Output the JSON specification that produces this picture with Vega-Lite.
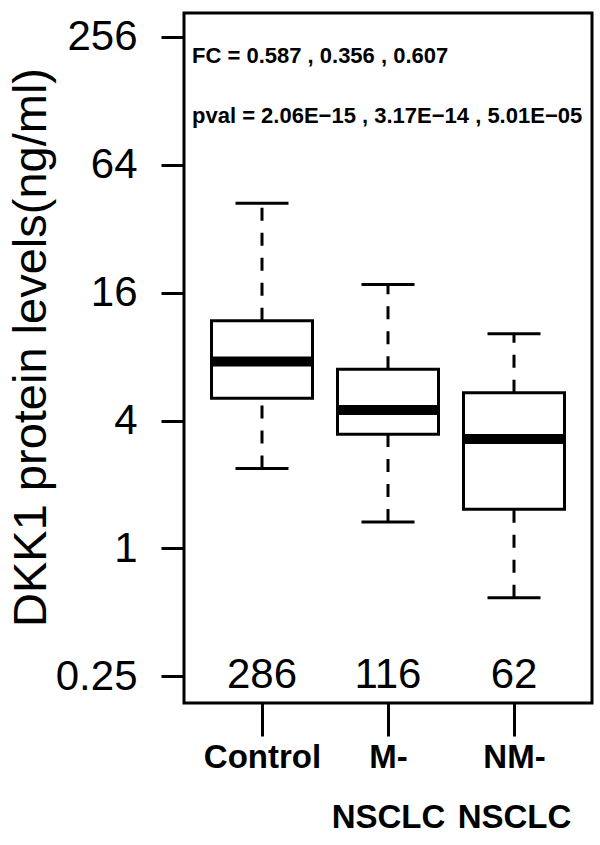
{
  "$schema": "https://vega.github.io/schema/vega-lite/v6.json",
  "width": 408,
  "height": 690,
  "autosize": {"type": "none"},
  "padding": {"left": 184, "top": 13, "right": 8, "bottom": 142},
  "background": "white",
  "config": {
    "view": {"stroke": "black", "strokeWidth": 3},
    "font": "Liberation Sans"
  },
  "data": {
    "values": [
      {"group": "Control", "low": 2.38, "q1": 5.09, "median": 7.59, "q3": 11.81, "high": 42.2, "n": "286"},
      {"group": "M-NSCLC", "low": 1.33, "q1": 3.45, "median": 4.48, "q3": 6.97, "high": 17.5, "n": "116"},
      {"group": "NM-NSCLC", "low": 0.585, "q1": 1.53, "median": 3.27, "q3": 5.41, "high": 10.25, "n": "62"}
    ]
  },
  "encoding": {
    "x": {
      "field": "group",
      "type": "nominal",
      "sort": null,
      "scale": {"type": "point", "padding": 0.619, "domain": ["Control", "M-NSCLC", "NM-NSCLC"]},
      "axis": {
        "title": null,
        "domain": false,
        "grid": false,
        "tickSize": 33,
        "tickWidth": 3,
        "tickColor": "black",
        "labelAngle": 0,
        "labelFont": "Liberation Sans",
        "labelFontWeight": "bold",
        "labelFontSize": 33,
        "labelColor": "black",
        "labelPadding": 5,
        "labelBaseline": "top",
        "labelLineHeight": 60,
        "labelExpr": "datum.label == 'M-NSCLC' ? ['M-', 'NSCLC'] : datum.label == 'NM-NSCLC' ? ['NM-', 'NSCLC'] : datum.label"
      }
    }
  },
  "layer": [
    {
      "mark": {"type": "rule", "strokeDash": [13, 12], "strokeWidth": 3, "color": "black"},
      "encoding": {
        "y": {
          "field": "q3",
          "type": "quantitative",
          "scale": {"type": "log", "base": 2, "domain": [0.187, 332], "nice": false, "zero": false},
          "axis": {
            "title": "DKK1 protein levels(ng/ml)",
            "values": [0.25, 1, 4, 16, 64, 256],
            "format": "~g",
            "domain": false,
            "grid": false,
            "tickSize": 23,
            "tickWidth": 3,
            "tickColor": "black",
            "labelFont": "Liberation Sans",
            "labelFontSize": 42,
            "labelColor": "black",
            "labelPadding": 24,
            "labelFlush": false,
            "titleFont": "Liberation Sans",
            "titleFontWeight": "normal",
            "titleFontSize": 47,
            "titleColor": "black",
            "titleAngle": -90,
            "titleX": -139,
            "titleY": 334,
            "titleAlign": "center",
            "titleBaseline": "alphabetic"
          }
        },
        "y2": {"field": "high"}
      }
    },
    {
      "mark": {"type": "rule", "strokeDash": [13, 12], "strokeWidth": 3, "color": "black"},
      "encoding": {
        "y": {"field": "low", "type": "quantitative"},
        "y2": {"field": "q1"}
      }
    },
    {
      "mark": {"type": "tick", "size": 53, "thickness": 3, "color": "black", "opacity": 1},
      "encoding": {"y": {"field": "high", "type": "quantitative"}}
    },
    {
      "mark": {"type": "tick", "size": 53, "thickness": 3, "color": "black", "opacity": 1},
      "encoding": {"y": {"field": "low", "type": "quantitative"}}
    },
    {
      "mark": {"type": "bar", "width": 101, "fill": "white", "stroke": "black", "strokeWidth": 3, "opacity": 1},
      "encoding": {
        "y": {"field": "q1", "type": "quantitative"},
        "y2": {"field": "q3"}
      }
    },
    {
      "mark": {"type": "tick", "size": 101, "thickness": 10, "color": "black", "opacity": 1},
      "encoding": {"y": {"field": "median", "type": "quantitative"}}
    },
    {
      "mark": {"type": "text", "fontSize": 42, "font": "Liberation Sans", "align": "center", "baseline": "alphabetic", "color": "black"},
      "encoding": {
        "y": {"datum": 0.22, "type": "quantitative"},
        "text": {"field": "n"}
      }
    },
    {
      "data": {"values": [{"t": "FC =  0.587 , 0.356 , 0.607"}]},
      "mark": {"type": "text", "fontSize": 22, "fontWeight": "bold", "font": "Liberation Sans", "align": "left", "baseline": "alphabetic", "dx": -70, "color": "black"},
      "encoding": {
        "x": {"datum": "Control"},
        "y": {"datum": 194, "type": "quantitative"},
        "text": {"field": "t"}
      }
    },
    {
      "data": {"values": [{"t": "pval = 2.06E\u221215 , 3.17E\u221214 , 5.01E\u221205"}]},
      "mark": {"type": "text", "fontSize": 22, "fontWeight": "bold", "font": "Liberation Sans", "align": "left", "baseline": "alphabetic", "dx": -70, "color": "black"},
      "encoding": {
        "x": {"datum": "Control"},
        "y": {"datum": 100.5, "type": "quantitative"},
        "text": {"field": "t"}
      }
    }
  ]
}
